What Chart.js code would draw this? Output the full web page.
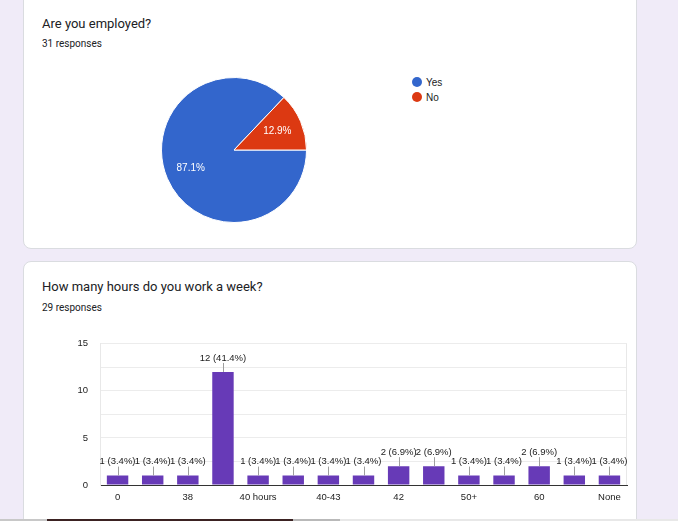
<!DOCTYPE html>
<html>
<head>
<meta charset="utf-8">
<script src="https://cdn.jsdelivr.net/npm/chart.js@4.4.1/dist/chart.umd.min.js"></script>
<style>
  html, body { margin: 0; padding: 0; }
  body {
    width: 678px; height: 521px; overflow: hidden; position: relative;
    background: #f0ebf8; font-family: Roboto, "Liberation Sans", Arial, sans-serif; color: #202124;
  }
  .card {
    position: absolute; left: 23px; width: 614px; box-sizing: border-box;
    background: #fff; border: 1px solid #dadce0; border-radius: 8px;
  }
  .title { position: absolute; left: 42px; font-size: 13px; line-height: 15px; white-space: nowrap; }
  .count { position: absolute; left: 42px; font-size: 10px; line-height: 12px; white-space: nowrap; }
  .legend { position: absolute; left: 412px; top: 77px; font: 10px "Liberation Sans", Arial, sans-serif; color: #222; }
  .legend div { height: 15px; line-height: 12px; white-space: nowrap; }
  .legend i { display: inline-block; width: 10px; height: 10px; border-radius: 50%; vertical-align: -1px; margin-right: 4px; }
  canvas { position: absolute; }
  .strip { position: absolute; left: 0; top: 519px; width: 678px; height: 2px;
    background: linear-gradient(to right, #c8c8c8 0 47px, #3b2222 47px 293px, #b9b9b9 293px 340px, #e8e8e8 340px); }
</style>
</head>
<body>
  <div class="card" style="top:-12px; height:261px;"></div>
  <div class="card" style="top:261px; height:300px;"></div>

  <div class="title" style="top:16px;">Are you employed?</div>
  <div class="count" style="top:38px;">31 responses</div>
  <div class="legend" id="pieLegend"></div>
  <canvas id="pieChart"></canvas>

  <div class="title" style="top:279px;">How many hours do you work a week?</div>
  <div class="count" style="top:302px;">29 responses</div>
  <canvas id="barChart"></canvas>

  <div class="strip"></div>

<script>
// ---------- Data ----------
const pieLabels = ["Yes", "No"];
const pieValues = [27, 4];            // 87.1% / 12.9% of 31 responses
const pieColors = ["#3366cc", "#dc3912"];

const hourLabels = ["0", "35", "38", "40", "40 hours", "40+", "40-43", "40-45", "42", "45", "50+", "55", "60", "70", "None"];
const hourValues = [1, 1, 1, 12, 1, 1, 1, 1, 2, 2, 1, 1, 2, 1, 1];
const yTicks = [0, 5, 10, 15];

const LABEL_FONT = '"Liberation Sans", Arial, sans-serif';

// ---------- Pie: employed? ----------
document.getElementById("pieLegend").innerHTML = pieLabels
  .map((l, i) => `<div><i style="background:${pieColors[i]}"></i>${l}</div>`).join("");

const pieCanvas = document.getElementById("pieChart");
pieCanvas.style.left = "154px"; pieCanvas.style.top = "70px";
pieCanvas.style.width = "160px"; pieCanvas.style.height = "160px";

// percentage text inside slices, at ~65% of the radius like google charts
const pieText = {
  id: "pieText",
  afterDatasetsDraw(chart) {
    const ctx = chart.ctx;
    const data = chart.data.datasets[0].data;
    const total = data.reduce((s, v) => s + v, 0);
    ctx.save();
    ctx.fillStyle = "#fff";
    ctx.font = "10px " + LABEL_FONT;
    ctx.textAlign = "center"; ctx.textBaseline = "middle";
    chart.getDatasetMeta(0).data.forEach((arc, i) => {
      const mid = (arc.startAngle + arc.endAngle) / 2;
      const r = arc.outerRadius * 0.65;
      ctx.fillText((data[i] / total * 100).toFixed(1) + "%", arc.x + Math.cos(mid) * r, arc.y + Math.sin(mid) * r);
    });
    ctx.restore();
  },
};

new Chart(pieCanvas, {
  type: "pie",
  data: { labels: pieLabels, datasets: [{ data: pieValues, backgroundColor: pieColors, borderColor: "#fff", borderWidth: 1, hoverOffset: 0 }] },
  options: {
    responsive: false, animation: false, rotation: 90,
    layout: { padding: 7 },
    plugins: { legend: { display: false }, tooltip: { enabled: false } },
  },
  plugins: [pieText],
});

// ---------- Bar: hours per week ----------
const barCanvas = document.getElementById("barChart");
barCanvas.style.left = "60px"; barCanvas.style.top = "326px";
barCanvas.style.width = "577px"; barCanvas.style.height = "184px";

const hourTotal = hourValues.reduce((s, v) => s + v, 0);

// "n (x%)" above each bar with a short grey leader line
const barText = {
  id: "barText",
  afterDatasetsDraw(chart) {
    const ctx = chart.ctx;
    ctx.save();
    ctx.font = "9.5px " + LABEL_FONT;
    ctx.textAlign = "center"; ctx.textBaseline = "middle";
    chart.getDatasetMeta(0).data.forEach((bar, i) => {
      const v = hourValues[i];
      ctx.strokeStyle = "#9e9e9e"; ctx.lineWidth = 1;
      ctx.beginPath();
      ctx.moveTo(Math.round(bar.x) + 0.5, bar.y - 9);
      ctx.lineTo(Math.round(bar.x) + 0.5, bar.y);
      ctx.stroke();
      ctx.fillStyle = "#1a1a1a";
      ctx.fillText(`${v} (${(v / hourTotal * 100).toFixed(1)}%)`, bar.x, bar.y - 14);
    });
    ctx.restore();
  },
};

// right-hand edge of the plot frame
const frameRight = {
  id: "frameRight",
  beforeDatasetsDraw(chart) {
    const { ctx, chartArea: a } = chart;
    ctx.save();
    ctx.strokeStyle = "#e8e8e8"; ctx.lineWidth = 1;
    ctx.beginPath();
    ctx.moveTo(Math.round(a.right) - 0.5, a.top);
    ctx.lineTo(Math.round(a.right) - 0.5, a.bottom);
    ctx.stroke();
    ctx.restore();
  },
};

new Chart(barCanvas, {
  type: "bar",
  data: {
    labels: hourLabels,
    datasets: [{ data: hourValues, backgroundColor: "#673ab7", barPercentage: 0.61, categoryPercentage: 1 }],
  },
  options: {
    responsive: false, animation: false,
    layout: { padding: { top: 9, right: 10, left: 0, bottom: 0 } },
    plugins: { legend: { display: false }, tooltip: { enabled: false } },
    scales: {
      x: {
        afterFit: (s) => { s.height = 25; },
        grid: { display: false, drawTicks: false },
        border: { color: "#333", width: 1 },
        ticks: {
          autoSkip: false, maxRotation: 0, padding: 7, color: "#222",
          font: { family: LABEL_FONT, size: 9.5 },
          callback: (v, i) => (i % 2 === 0 ? hourLabels[i] : ""),
        },
      },
      y: {
        min: 0, max: 15,
        afterFit: (s) => { s.width = 40; },
        grid: { drawTicks: false, color: (c) => (c.tick.value === 0 ? "rgba(0,0,0,0)" : "#ececec") },
        border: { color: "#e8e8e8" },
        ticks: {
          stepSize: 2.5, padding: 12, color: "#222",
          font: { family: LABEL_FONT, size: 9.5 },
          callback: (v) => (yTicks.includes(v) ? v : ""),
        },
      },
    },
  },
  plugins: [barText, frameRight],
});
</script>
</body>
</html>
